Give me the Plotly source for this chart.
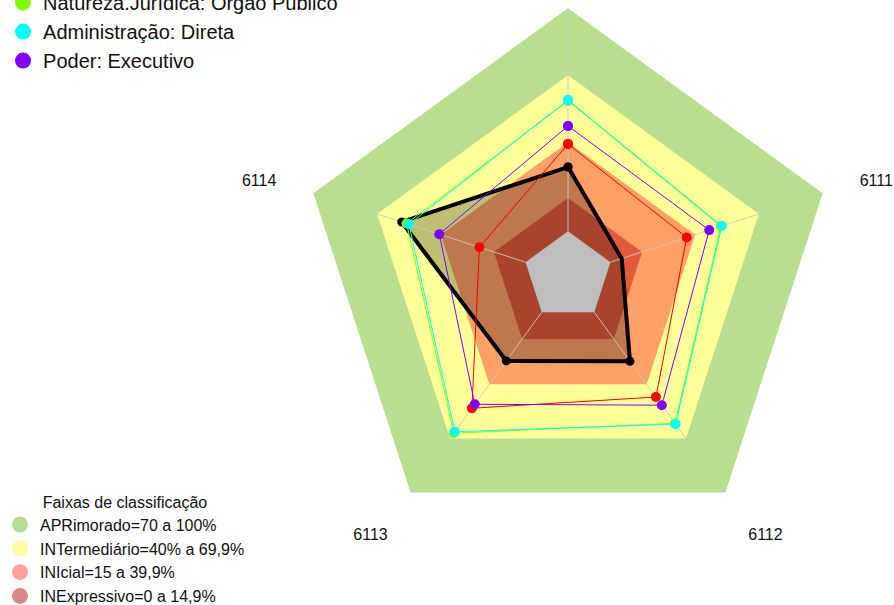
import plotly.graph_objects as go

# Axes of the radar, counter-clockwise from the top
categories = ["6115", "6114", "6113", "6112", "6111"]

# Series values (%), same order as categories
entidade = [28.8, 58.3, 27.0, 27.2, 5.3]
referencia = [39.1, 21.7, 53.2, 47.0, 35.9]
natureza = [58.5, 56.0, 67.0, 61.5, 52.0]
administracao = [58.8, 54.9, 66.2, 62.0, 52.4]
poder = [47.2, 40.6, 51.0, 51.5, 46.5]

legend_names = ["Natureza.Jurídica: Órgão Público", "Administração: Direta", "Poder: Executivo"]

# Classification bands (upper limit of each band, %)
band_labels = ["APRimorado=70 a 100%", "INTermediário=40% a 69,9%",
               "INIcial=15 a 39,9%", "INExpressivo=0 a 14,9%"]
band_upper = [100, 69.9, 39.9, 14.9]
band_fill = ["#B9DF8E", "#FFFF99", "#FFA066", "#E05B3C"]
band_swatch = ["rgba(140,205,90,0.65)", "rgba(255,255,120,0.7)",
               "rgba(255,110,110,0.65)", "rgba(200,70,70,0.65)"]
hole_value = 0

FONT = "Liberation Sans, Arial, sans-serif"
theta_c = categories + [categories[0]]


def closed(vals):
    return list(vals) + [vals[0]]


fig = go.Figure()

# Background bands, outermost first
for upper, col in zip(band_upper, band_fill):
    fig.add_trace(go.Scatterpolar(
        r=closed([upper] * len(categories)), theta=theta_c, mode="lines",
        fill="toself", fillcolor=col, line=dict(width=0, color=col),
        showlegend=False, hoverinfo="skip"))

# Shaded area of the main series
fig.add_trace(go.Scatterpolar(
    r=closed(entidade), theta=theta_c, mode="lines", fill="toself",
    fillcolor="rgba(0,0,0,0.25)", line=dict(width=0, color="rgba(0,0,0,0)"),
    showlegend=False, hoverinfo="skip"))

# Central hole
fig.add_trace(go.Scatterpolar(
    r=closed([hole_value] * len(categories)), theta=theta_c, mode="lines",
    fill="toself", fillcolor="#BEBEBE", line=dict(width=0, color="#BEBEBE"),
    showlegend=False, hoverinfo="skip"))

# Spokes from the hole edge to the outer ring
spoke_r, spoke_t = [], []
for c in categories:
    spoke_r += [hole_value, band_upper[0], None]
    spoke_t += [c, c, None]
fig.add_trace(go.Scatterpolar(
    r=spoke_r, theta=spoke_t, mode="lines",
    line=dict(width=1, color="rgba(200,200,200,0.9)"),
    showlegend=False, hoverinfo="skip"))

# Data series
fig.add_trace(go.Scatterpolar(
    r=closed(entidade), theta=theta_c, mode="lines+markers", name="Entidade",
    line=dict(color="black", width=4), marker=dict(size=9, color="black"),
    showlegend=False))
series = [
    (referencia, "#FF0000", "Referência"),
    (natureza, "#7FFF00", legend_names[0]),
    (administracao, "#00FFFF", legend_names[1]),
    (poder, "#8000FF", legend_names[2]),
]
for vals, col, nm in series:
    fig.add_trace(go.Scatterpolar(
        r=closed(vals), theta=theta_c, mode="lines+markers", name=nm,
        line=dict(color=col, width=1), marker=dict(size=10, color=col),
        showlegend=False))

# Legend entries for the series
for vals, col, nm in series[1:]:
    fig.add_trace(go.Scatterpolar(
        r=[None], theta=[None], mode="markers", name=nm,
        marker=dict(size=16, color=col), legend="legend"))

# Legend entries for the bands
for lab, col in zip(band_labels, band_swatch):
    fig.add_trace(go.Scatterpolar(
        r=[None], theta=[None], mode="markers", name=lab,
        marker=dict(size=16, color=col), legend="legend2"))

fig.update_layout(
    width=894, height=605,
    margin=dict(l=0, r=0, t=0, b=0, autoexpand=False),
    paper_bgcolor="white",
    font=dict(family=FONT, color="#111111"),
    polar=dict(
        domain=dict(x=[0.3356, 0.9351], y=[0.1008, 0.9868]),
        bgcolor="rgba(0,0,0,0)",
        gridshape="linear",
        radialaxis=dict(range=[-20, 100], visible=False),
        angularaxis=dict(type="category", categoryarray=categories,
                         rotation=90, direction="counterclockwise",
                         showgrid=False, showline=False, showticklabels=True,
                         ticks="outside", ticklen=35,
                         tickcolor="rgba(0,0,0,0)",
                         tickfont=dict(size=16, family=FONT, color="#111111")),
    ),
    legend=dict(x=0.0034, y=1.028, xanchor="left", yanchor="top",
                font=dict(size=20, family=FONT, color="#111111"),
                bgcolor="rgba(0,0,0,0)", tracegroupgap=0),
    legend2=dict(x=0.0, y=-0.013, xanchor="left", yanchor="bottom",
                 font=dict(size=16, family=FONT, color="#111111"),
                 title=dict(text="Faixas de classificação", side="top center",
                            font=dict(size=16, family=FONT, color="#111111")),
                 bgcolor="rgba(0,0,0,0)", tracegroupgap=0),
)

fig.write_html("out.html")
